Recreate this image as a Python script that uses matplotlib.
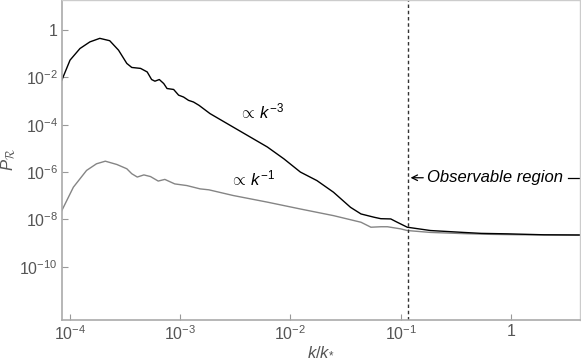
import numpy as np
import matplotlib.pyplot as plt

plt.rcParams['font.family'] = ['Liberation Sans', 'DejaVu Sans']
plt.rcParams['mathtext.fontset'] = 'custom'
plt.rcParams['mathtext.rm'] = 'Liberation Sans'
plt.rcParams['mathtext.it'] = 'Liberation Sans:italic'
plt.rcParams['mathtext.cal'] = 'cmsy10'

# log10(k/k*) and log10(P_R)
black_logk = [-4.075, -4.0, -3.91, -3.82, -3.73, -3.64, -3.56, -3.485, -3.44, -3.36,
              -3.30, -3.26, -3.23, -3.19, -3.15, -3.12, -3.06, -3.015, -2.97, -2.925,
              -2.88, -2.83, -2.79, -2.73, -2.52, -2.21, -2.06, -1.91, -1.76, -1.61,
              -1.455, -1.36, -1.24, -1.18, -1.09, -1.04, -0.94, -0.73, -0.43, -0.27,
              -0.03, 0.3, 0.65]
black_logp = [-2.12, -1.27, -0.78, -0.50, -0.35, -0.45, -0.85, -1.41, -1.58, -1.62,
              -1.77, -2.09, -2.16, -2.09, -2.26, -2.47, -2.51, -2.75, -2.83, -2.97,
              -3.04, -3.18, -3.32, -3.53, -4.10, -4.94, -5.44, -6.0, -6.36, -6.85,
              -7.49, -7.77, -7.91, -7.97, -7.98, -8.10, -8.33, -8.47, -8.55, -8.59,
              -8.61, -8.65, -8.66]

gray_logk = [-4.075, -3.97, -3.85, -3.76, -3.68, -3.575, -3.485, -3.44, -3.39, -3.33,
             -3.27, -3.20, -3.14, -3.05, -2.94, -2.82, -2.74, -2.52, -2.21, -1.91,
             -1.61, -1.36, -1.27, -1.18, -1.12, -1.0, -0.94, -0.73, -0.43, -0.2,
             0.1, 0.65]
gray_logp = [-7.63, -6.64, -5.93, -5.65, -5.54, -5.68, -5.86, -6.07, -6.21, -6.12,
             -6.19, -6.38, -6.31, -6.50, -6.57, -6.71, -6.75, -6.99, -7.27, -7.56,
             -7.84, -8.12, -8.33, -8.31, -8.31, -8.40, -8.47, -8.55, -8.60, -8.63,
             -8.65, -8.66]

k_obs = 0.116
xticks = [1e-4, 1e-3, 1e-2, 1e-1, 1]
xlabels = [r'$10^{-4}$', r'$10^{-3}$', r'$10^{-2}$', r'$10^{-1}$', '1']
yticks = [1, 1e-2, 1e-4, 1e-6, 1e-8, 1e-10]
ylabels = ['1', r'$10^{-2}$', r'$10^{-4}$', r'$10^{-6}$', r'$10^{-8}$', r'$10^{-10}$']

fig = plt.figure(figsize=(5.81, 3.64), dpi=100)
ax = fig.add_axes([62/581, 44/364, 518/581, 320/364])

ax.plot(10**np.array(gray_logk), 10**np.array(gray_logp), color='#858585', lw=1.0)
ax.plot(10**np.array(black_logk), 10**np.array(black_logp), color='black', lw=1.0)
ax.axvline(k_obs, color='#333333', lw=1, ls=(0, (2.5, 2)))

ax.set_xscale('log')
ax.set_yscale('log')
ax.set_xlim(10**-4.073, 10**0.627)
ax.set_ylim(10**-12.25, 10**1.27)

ax.set_xticks(xticks)
ax.set_xticklabels(xlabels)
ax.set_yticks(yticks)
ax.set_yticklabels(ylabels)
ax.minorticks_off()
ax.tick_params(direction='in', length=4, width=0.8, color='#999999',
               labelcolor='#555555', labelsize=11.5, pad=3)

for s in ['left', 'bottom']:
    ax.spines[s].set_color('#aaaaaa')
    ax.spines[s].set_linewidth(1.2)
for s in ['top', 'right']:
    ax.spines[s].set_color('#cccccc')
    ax.spines[s].set_linewidth(1.0)

ax.set_xlabel(r'$k/k_{*}$', color='#555555', fontsize=12, labelpad=1)
ax.set_ylabel(r'$P_{\mathcal{R}}$', color='#555555', fontsize=12, labelpad=1)

ax.text(10**-2.47, 10**-3.75, r'$\propto\, k^{-3}$', fontsize=12)
ax.text(10**-2.55, 10**-6.55, r'$\propto\, k^{-1}$', fontsize=12)

ax.annotate('', xy=(k_obs, 10**-6.24), xytext=(10**-0.77, 10**-6.24),
            arrowprops=dict(arrowstyle='->', color='black', lw=0.9))
ax.text(10**-0.76, 10**-6.24, 'Observable region', fontsize=12, style='italic',
        va='center', ha='left')
ax.plot([10**0.52, 10**0.627], [10**-6.24, 10**-6.24], color='black', lw=0.9)

fig.savefig('out.png', dpi=100)
